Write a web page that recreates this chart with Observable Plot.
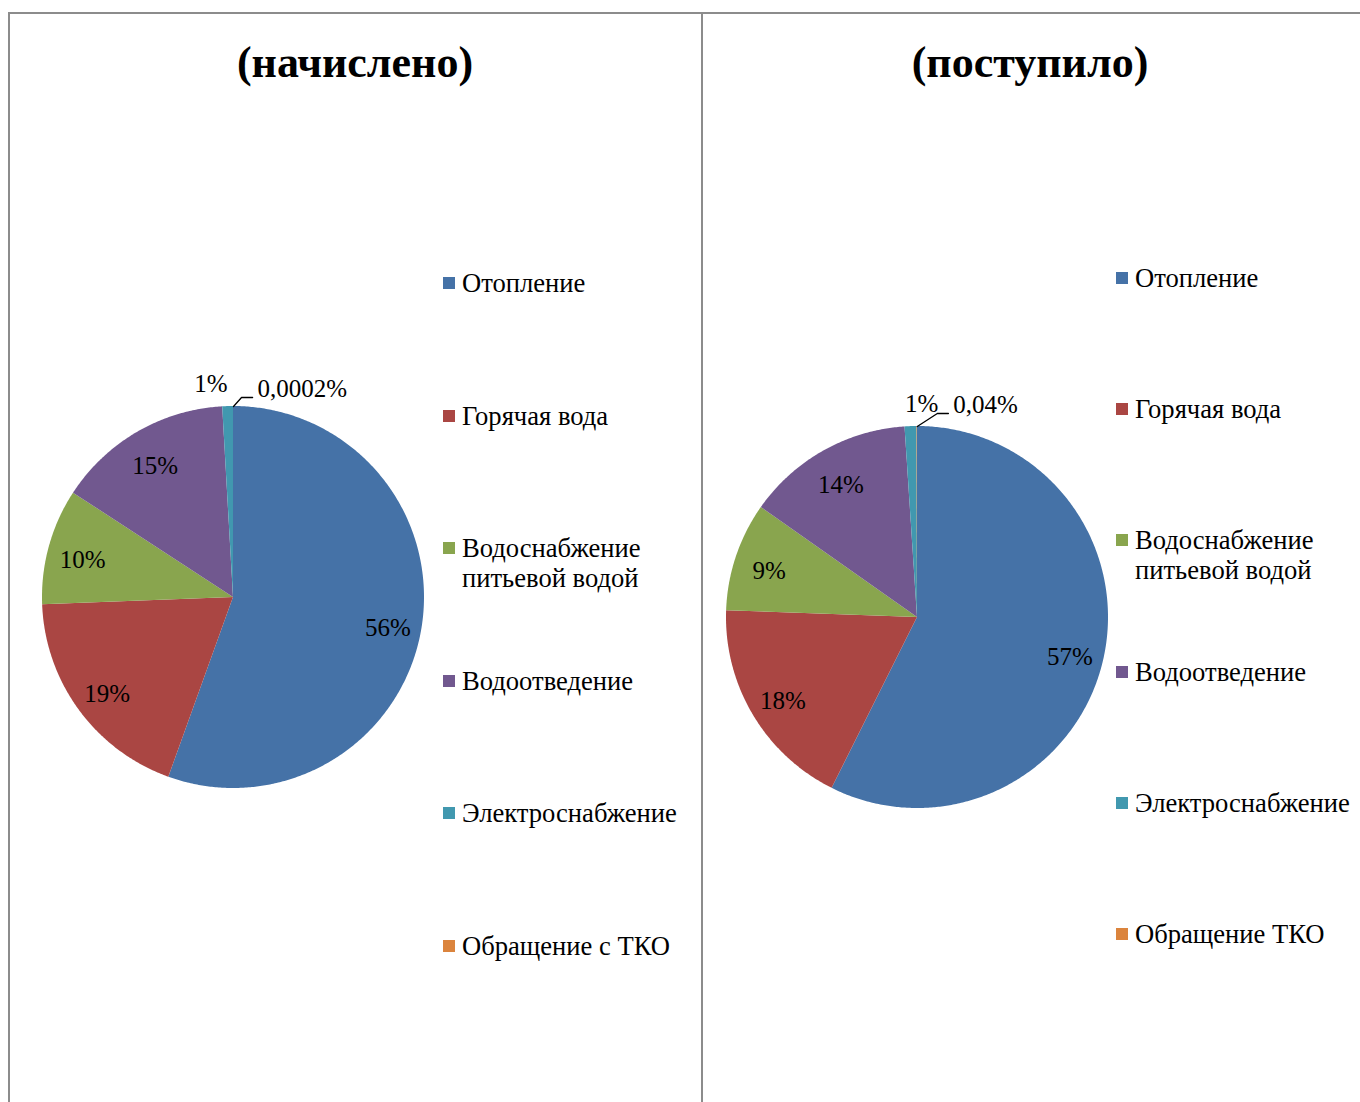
<!DOCTYPE html>
<html>
<head>
<meta charset="utf-8">
<script src="https://cdn.jsdelivr.net/npm/d3@7"></script>
<script src="https://cdn.jsdelivr.net/npm/@observablehq/plot@0.6"></script>
<style>
  html, body { margin: 0; padding: 0; background: #fff; }
  body { width: 1360px; height: 1102px; position: relative; overflow: hidden;
         font-family: "Liberation Serif", "Times New Roman", serif; color: #000; }
  .panel { position: absolute; box-sizing: border-box; border: 2px solid #8c8c8c; }
  .title { position: absolute; font-weight: bold; font-size: 44px; line-height: 44px;
           text-align: center; white-space: nowrap; }
  .pie { position: absolute; }
  .leg-sw { position: absolute; width: 12px; height: 12px; }
  .leg-tx { position: absolute; font-size: 26.6px; line-height: 30px; white-space: nowrap; }
</style>
</head>
<body>
<div class="panel" style="left:8px;top:12px;width:695px;height:1200px;"></div>
<div class="panel" style="left:701px;top:12px;width:800px;height:1200px;"></div>
<script>
// ---- data ----
const categories = ["Отопление", "Горячая вода", "Водоснабжение питьевой водой", "Водоотведение", "Электроснабжение", "Обращение с ТКО"];
const colors = ["#4572A7", "#AA4643", "#89A54E", "#71588F", "#4198AF", "#DB843D"];

const accruedTitle = "(начислено)";
const accruedLegend = ["Отопление", "Горячая вода", "Водоснабжение\nпитьевой водой", "Водоотведение", "Электроснабжение", "Обращение с ТКО"];
const accruedValues = [55.5, 18.9, 9.8, 14.9, 0.9, 0.0002];
const accruedLabels = ["56%", "19%", "10%", "15%", "1%", "0,0002%"];

const receivedTitle = "(поступило)";
const receivedLegend = ["Отопление", "Горячая вода", "Водоснабжение\nпитьевой водой", "Водоотведение", "Электроснабжение", "Обращение ТКО"];
const receivedValues = [57.4, 18.2, 9.2, 14.2, 1.0, 0.04];
const receivedLabels = ["57%", "18%", "9%", "14%", "1%", "0,04%"];

// ---- layout ----
const R = 191;          // pie radius, px
const HALF = 250;       // half size of pie svg, px
const charts = [
  {title: accruedTitle, legend: accruedLegend, values: accruedValues, labels: accruedLabels,
   titleX: 355, cx: 233, cy: 597, legX: 443, legBase: 292, legStep: 132.6,
   smallAtLeader: false, leader: [0.042, 0.047]},
  {title: receivedTitle, legend: receivedLegend, values: receivedValues, labels: receivedLabels,
   titleX: 1030, cx: 917, cy: 617, legX: 1116, legBase: 287, legStep: 131.2,
   smallAtLeader: true, leader: [0.105, 0.068]}
];

function drawChart(cfg) {
  // title
  const t = document.createElement("div");
  t.className = "title";
  t.textContent = cfg.title;
  t.style.left = (cfg.titleX - 300) + "px";
  t.style.width = "600px";
  t.style.top = "41px";
  document.body.appendChild(t);

  // slices
  const total = d3.sum(cfg.values);
  const arcs = d3.pie().sort(null).value(d => d)(cfg.values);
  const pts = [];
  const labelsIn = [], labelsSmall = [];
  arcs.forEach((a, i) => {
    const n = Math.max(2, Math.ceil((a.endAngle - a.startAngle) / (Math.PI / 360)));
    for (let k = 0; k <= n; k++) {
      const ang = a.startAngle + (a.endAngle - a.startAngle) * k / n;
      pts.push({cat: categories[i], x: Math.sin(ang), y: Math.cos(ang), x0: 0, y0: 0});
    }
    const mid = (a.startAngle + a.endAngle) / 2;
    const share = cfg.values[i] / total;
    if (share > 0.03) labelsIn.push({x: 0.82 * Math.sin(mid), y: 0.82 * Math.cos(mid) - 0.02, text: cfg.labels[i]});
    else labelsSmall.push({i, mid, text: cfg.labels[i]});
  });

  const marks = [
    Plot.area(pts, {x1: "x", y1: "y", x2: "x0", y2: "y0", z: "cat", fill: "cat", curve: "linear"}),
    Plot.text(labelsIn, {x: "x", y: "y", text: "text", fontSize: 25, fill: "#000"})
  ];

  // small slices: the second-to-last gets a label beside it, the last gets a leader line
  const sm1 = labelsSmall.find(d => d.i === cfg.values.length - 2);
  const sm2 = labelsSmall.find(d => d.i === cfg.values.length - 1);
  let p0, p1, p2;
  if (sm2) {
    p0 = {x: Math.sin(sm2.mid), y: Math.cos(sm2.mid)};
    p1 = {x: p0.x + cfg.leader[0], y: p0.y + cfg.leader[1]};
    p2 = {x: p1.x + 0.058, y: p1.y};
    marks.push(Plot.line([p0, p1, p2], {x: "x", y: "y", stroke: "#000", strokeWidth: 1.3, curve: "linear"}));
    marks.push(Plot.text([{x: p2.x + 0.026, y: p2.y + 0.045, text: sm2.text}],
      {x: "x", y: "y", text: "text", fontSize: 25, fill: "#000", textAnchor: "start"}));
  }
  if (sm1) {
    const pos = (cfg.smallAtLeader && p1)
      ? {x: p1.x + 0.005, y: p1.y + 0.05}
      : {x: 1.1 * Math.sin(sm1.mid), y: 1.1 * Math.cos(sm1.mid) + 0.02};
    marks.push(Plot.text([{...pos, text: sm1.text}],
      {x: "x", y: "y", text: "text", fontSize: 25, fill: "#000", textAnchor: "end"}));
  }

  const h = HALF / R;
  const svg = Plot.plot({
    width: 2 * HALF, height: 2 * HALF, margin: 0,
    x: {domain: [-h, h], axis: null},
    y: {domain: [-h, h], axis: null},
    color: {domain: categories, range: colors},
    style: {background: "none", overflow: "visible", fontFamily: "'Liberation Serif', 'Times New Roman', serif"},
    marks
  });
  const wrap = document.createElement("div");
  wrap.className = "pie";
  wrap.style.left = (cfg.cx - HALF) + "px";
  wrap.style.top = (cfg.cy - HALF) + "px";
  wrap.appendChild(svg);
  document.body.appendChild(wrap);

  // legend
  cfg.legend.forEach((name, i) => {
    const base = cfg.legBase + i * cfg.legStep;
    const sw = document.createElement("div");
    sw.className = "leg-sw";
    sw.style.background = colors[i];
    sw.style.left = cfg.legX + "px";
    sw.style.top = (base - 15) + "px";
    document.body.appendChild(sw);
    const tx = document.createElement("div");
    tx.className = "leg-tx";
    tx.style.left = (cfg.legX + 19) + "px";
    tx.style.top = (base - 24) + "px";
    tx.innerHTML = name.split("\n").join("<br>");
    document.body.appendChild(tx);
  });
}

charts.forEach(drawChart);
</script>
</body>
</html>
